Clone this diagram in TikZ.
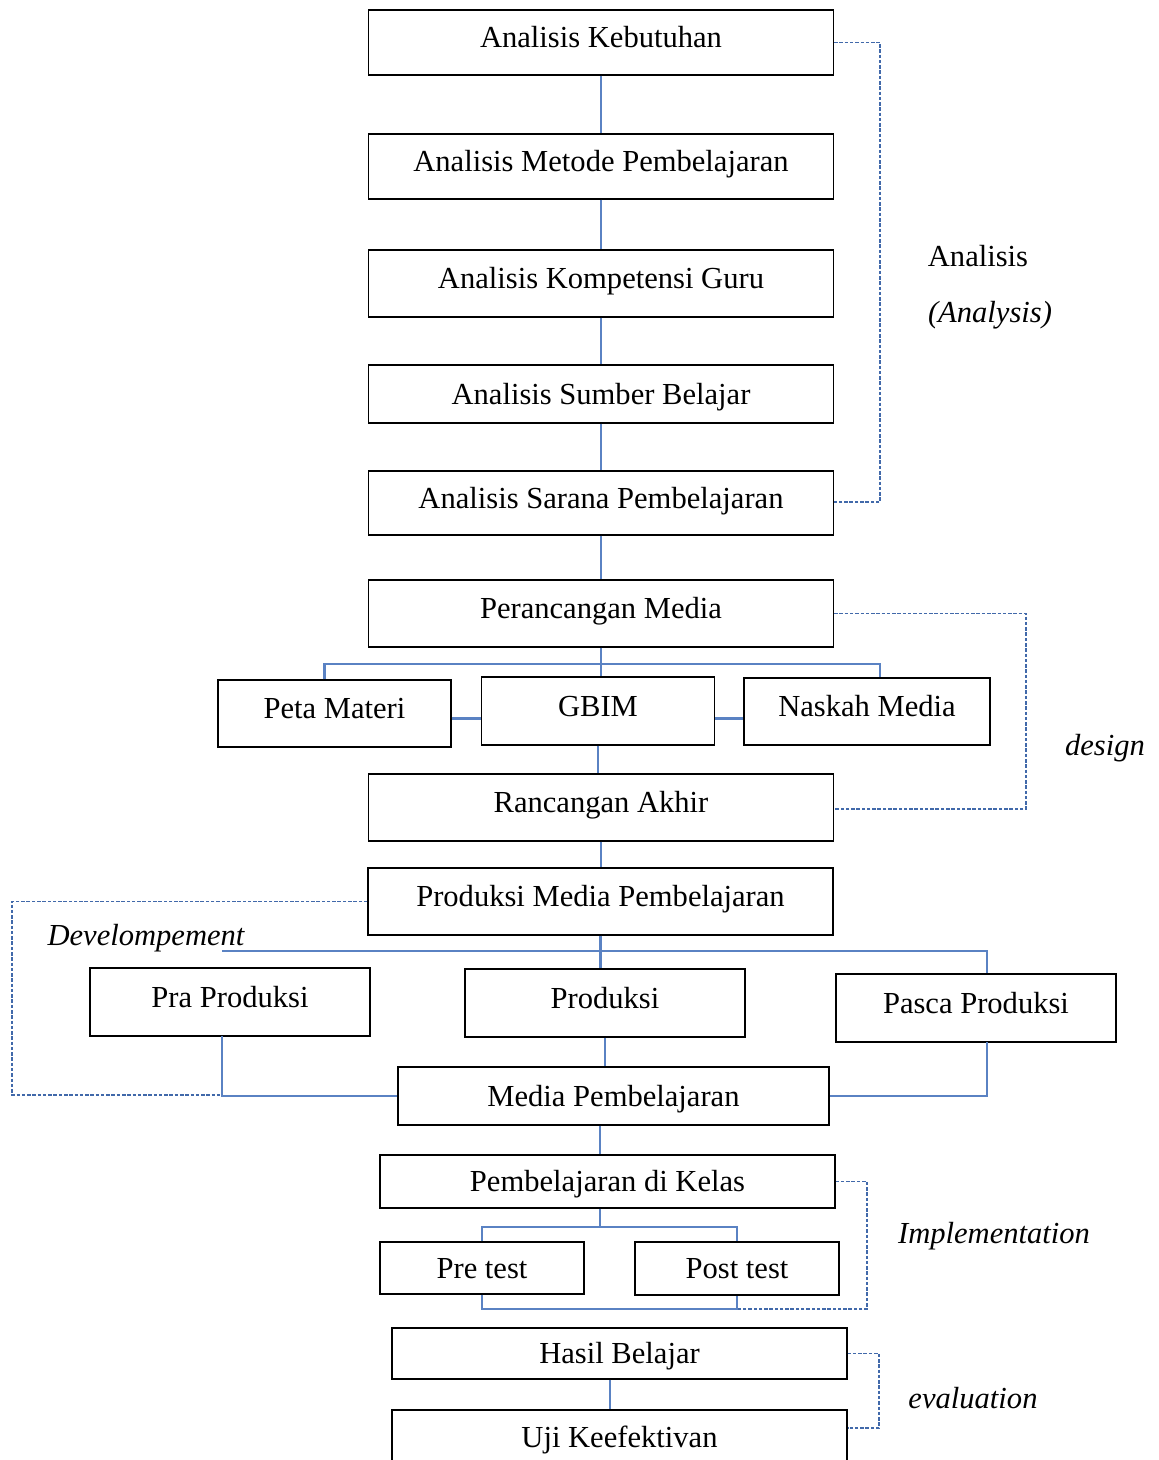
\documentclass[tikz,border=0pt]{standalone}
\usepackage{fontspec}
\setmainfont{Liberation Serif}
\usepackage{xcolor}
\usepackage{tikz}
\definecolor{lineblue}{RGB}{90,130,195}
\definecolor{dashblue}{RGB}{65,105,170}

\begin{document}
\begin{tikzpicture}[x=0.02cm, y=-0.02cm,
  box/.style={draw, line width=0.8pt, minimum width=9.3cm, minimum height=1.3cm, inner sep=2pt, text height=0.45cm, text depth=0.25cm, font=\fontsize{17.4}{20}\selectfont},
  slim/.style={text height=0.5cm, text depth=0.1cm},
  lbl/.style={inner sep=0pt, font=\fontsize{17.4}{20}\selectfont},
  plbl/.style={lbl, font=\fontsize{17.4}{20}\selectfont\itshape},
  link/.style={draw=lineblue, line width=1.3pt},
  phase/.style={draw=dashblue, line width=1.1pt, dash pattern=on 2pt off 1pt}]
  \useasboundingbox (0,0) rectangle (1159,1460);
  \clip (0,0) rectangle (1159,1460);
  \node[box] (kebutuhan) at (601,42.5) {Analisis Kebutuhan};
  \node[box] (metode) at (601,166.5) {Analisis Metode Pembelajaran};
  \node[box, minimum height=1.34cm] (kompetensi) at (601,283.5) {Analisis Kompetensi Guru};
  \node[box, slim, minimum height=1.16cm] (sumber) at (601,394) {Analisis Sumber Belajar};
  \node[box, minimum height=1.28cm] (sarana) at (601,503) {Analisis Sarana Pembelajaran};
  \node[box, minimum height=1.34cm] (perancangan) at (601,613.5) {Perancangan Media};
  \node[box, minimum width=4.66cm, minimum height=1.34cm] (peta) at (334.5,713.5) {Peta Materi};
  \node[box, minimum width=4.66cm, minimum height=1.36cm] (gbim) at (598,711) {GBIM};
  \node[box, minimum width=4.92cm, minimum height=1.34cm] (naskah) at (867,711.5) {Naskah Media};
  \node[box, minimum height=1.34cm] (rancangan) at (601,807.5) {Rancangan Akhir};
  \node[box, minimum height=1.34cm] (prodmedia) at (600.5,901.5) {Produksi Media Pembelajaran};
  \node[box, minimum width=5.6cm, minimum height=1.36cm] (pra) at (230,1002) {Pra Produksi};
  \node[box, minimum width=5.6cm, minimum height=1.36cm] (produksi) at (605,1003) {Produksi};
  \node[box, minimum width=5.6cm, minimum height=1.36cm] (pasca) at (976,1008) {Pasca Produksi};
  \node[box, slim, minimum width=8.62cm, minimum height=1.16cm] (media) at (613.5,1096) {Media Pembelajaran};
  \node[box, slim, minimum width=9.1cm, minimum height=1.06cm] (kelas) at (607.5,1181.5) {Pembelajaran di Kelas};
  \node[box, slim, minimum width=4.08cm, minimum height=1.04cm] (pre) at (482,1268) {Pre test};
  \node[box, slim, minimum width=4.08cm, minimum height=1.06cm] (post) at (737,1268.5) {Post test};
  \node[box, slim, minimum width=9.1cm, minimum height=1.02cm] (hasil) at (619.5,1353.5) {Hasil Belajar};
  \node[box, minimum width=9.1cm] (uji) at (619.5,1442.5) {Uji Keefektivan};
  \node[lbl] (lanalisis) at (978,256) {Analisis};
  \node[plbl] (lanalysis) at (990,315) {(Analysis)};
  \node[plbl] (ldesign) at (1105,748) {design};
  \node[plbl] (ldevel) at (146,938) {Develompement};
  \node[plbl] (limpl) at (994,1236) {Implementation};
  \node[plbl] (leval) at (973,1398) {evaluation};
  \coordinate (dbar) at (600,664);
  \coordinate (pbar) at (222,951);
  \coordinate (praS) at (222,1036);
  \coordinate (pascaS) at (987,1042);
  \coordinate (kbar) at (600,1227);
  \coordinate (tbar) at (600,1309);
  \coordinate (hbar) at (610,1379);
  \draw[link] (kebutuhan.south) -- (metode.north);
  \draw[link] (metode.south) -- (kompetensi.north);
  \draw[link] (kompetensi.south) -- (sumber.north);
  \draw[link] (sumber.south) -- (sarana.north);
  \draw[link] (sarana.south) -- (perancangan.north);
  \draw[link] (perancangan.south) -- (perancangan.south |- gbim.north);
  \draw[link] ([xshift=-0.2cm]peta.north) |- (dbar) -| ([xshift=0.26cm]naskah.north);
  \draw[link] ([yshift=-0.1cm]peta.east) -- ([yshift=-0.1cm]peta.east -| gbim.west);
  \draw[link] ([yshift=-0.15cm]gbim.east) -- ([yshift=-0.15cm]gbim.east -| naskah.west);
  \draw[link] (gbim.south) -- (gbim.south |- rancangan.north);
  \draw[link] (rancangan.south) -- (rancangan.south |- prodmedia.north);
  \draw[link] (prodmedia.south) -- (prodmedia.south |- produksi.north);
  \draw[link] (pbar) -| (pascaS |- pasca.north);
  \draw[link] (produksi.south) -- (produksi.south |- media.north);
  \draw[link] (praS) |- (media.west);
  \draw[link] (pascaS) |- (media.east);
  \draw[link] (kbar |- media.south) -- (kbar |- kelas.north);
  \draw[link] (kbar |- kelas.south) -- (kbar);
  \draw[link] (pre.north) |- (kbar) -| (post.north);
  \draw[link] (pre.south) |- (tbar) -| (post.south);
  \draw[link] (hbar |- hasil.south) -- (hbar |- uji.north);
  \coordinate (anR) at (880,502);
  \coordinate (deR) at (1026,809);
  \coordinate (dvL) at (12,1095);
  \coordinate (imR) at (867,1309);
  \coordinate (evR) at (879,1428);
  \draw[phase] (kebutuhan.east) -| (anR) -- (anR -| sarana.east);
  \draw[phase] (perancangan.east) -| (deR) -- (deR -| rancangan.east);
  \draw[phase] (prodmedia.west) -| (dvL) -- (praS |- dvL);
  \draw[phase] (kelas.east) -| (imR) -- (post.south |- imR);
  \draw[phase] (hasil.east) -| (evR) -- (evR -| uji.east);
\end{tikzpicture}
\end{document}
